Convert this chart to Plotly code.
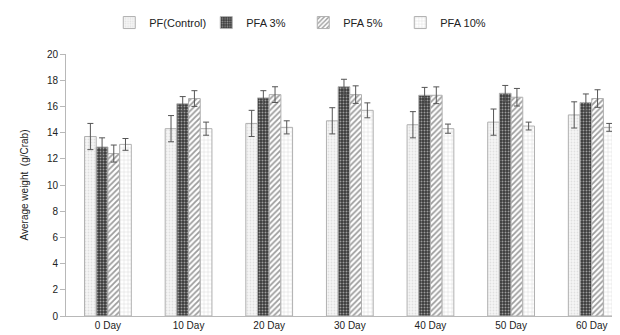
import plotly.graph_objects as go

days = ["0 Day", "10 Day", "20 Day", "30 Day", "40 Day", "50 Day", "60 Day"]
series_names = ["PF(Control)", "PFA 3%", "PFA 5%", "PFA 10%"]
pf_control = [13.7, 14.3, 14.7, 14.9, 14.6, 14.8, 15.35]
pfa3 = [12.9, 16.2, 16.65, 17.5, 16.85, 17.0, 16.3]
pfa5 = [12.4, 16.6, 16.9, 16.9, 16.85, 16.7, 16.6]
pfa10 = [13.1, 14.3, 14.4, 15.7, 14.3, 14.5, 14.4]
err_pf = [1.0, 1.0, 1.0, 1.0, 1.0, 1.0, 1.0]
err_3 = [0.7, 0.55, 0.55, 0.57, 0.6, 0.6, 0.65]
err_5 = [0.65, 0.6, 0.6, 0.67, 0.64, 0.67, 0.67]
err_10 = [0.45, 0.5, 0.5, 0.57, 0.35, 0.3, 0.3]
y_ticks = [0, 2, 4, 6, 8, 10, 12, 14, 16, 18, 20]

styles = [
    dict(color="#f6f6f6", pattern=dict(shape=".", fgcolor="#c8c8c8", size=3, solidity=0.3)),
    dict(color="#3a3a3a", pattern=dict(shape=".", fgcolor="#ffffff", bgcolor="#3a3a3a", size=3, solidity=0.35)),
    dict(color="#ffffff", pattern=dict(shape="/", fgcolor="#3a3a3a", bgcolor="#ffffff", size=4, solidity=0.45)),
    dict(color="#ffffff", pattern=dict(shape="+", fgcolor="#b8b8b8", bgcolor="#ffffff", size=4, solidity=0.25)),
]

fig = go.Figure()
for name, vals, errs, st in zip(series_names, [pf_control, pfa3, pfa5, pfa10],
                                [err_pf, err_3, err_5, err_10], styles):
    fig.add_trace(go.Bar(
        x=days, y=vals, name=name,
        marker=dict(color=st["color"], pattern=st["pattern"],
                    line=dict(color="#b0b0b0", width=1)),
        error_y=dict(type="data", array=errs, visible=True,
                     color="#555555", thickness=1, width=3),
    ))

fig.update_layout(
    width=620, height=335,
    margin=dict(l=58, r=0, t=39, b=27),
    paper_bgcolor="white", plot_bgcolor="white",
    barmode="group", bargap=0.42, bargroupgap=0,
    font=dict(family="Liberation Sans, Arial, sans-serif", size=10, color="#222222"),
    showlegend=True,
    legend=dict(orientation="h", x=0.077, xanchor="left", y=1.12, yanchor="middle",
                font=dict(size=11, color="#222222"),
                entrywidth=52, entrywidthmode="pixels",
                itemwidth=30, traceorder="normal", tracegroupgap=0),
    xaxis=dict(type="category", range=[-0.52, 6.45], showline=True,
               linecolor="#b8b8b8", linewidth=1, ticks="", showgrid=False,
               tickfont=dict(size=10, color="#222222")),
    yaxis=dict(range=[0, 20], tickvals=y_ticks, showline=True, linecolor="#b8b8b8",
               linewidth=1, ticks="outside", ticklen=5, tickcolor="#b8b8b8",
               showgrid=False, zeroline=False,
               tickfont=dict(size=10, color="#222222"),
               title=dict(text="Average weight  (g/Crab)", font=dict(size=10, color="#222222"),
                          standoff=16)),
)

fig.write_html("out.html")
